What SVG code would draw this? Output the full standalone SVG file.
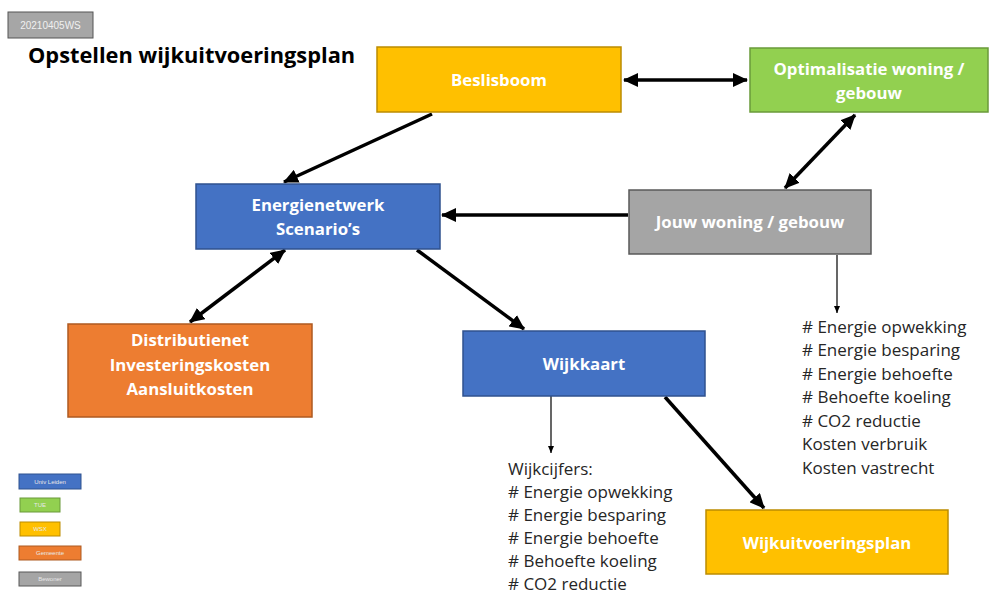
<svg xmlns="http://www.w3.org/2000/svg" width="990" height="594" viewBox="0 0 990 594">
<style>
.box{stroke-width:1.5}
.blue{fill:#4472C4;stroke:#2F528F}
.yellow{fill:#FFC000;stroke:#BC8C00}
.green{fill:#92D050;stroke:#6A9A3A}
.gray{fill:#A5A5A5;stroke:#595959}
.orange{fill:#ED7D31;stroke:#AE5A21}
.lbl{font-family:"Open Sans","Liberation Sans",sans-serif;font-weight:bold;font-size:16.8px;fill:#FFFFFF;text-anchor:middle}
.lst{font-family:"Open Sans","Liberation Sans",sans-serif;font-size:17px;fill:#262626}
.leg{font-family:"Liberation Sans",sans-serif;font-size:6px;fill:#E8E8E8;text-anchor:middle}
.thick{stroke:#000;stroke-width:3.5;fill:none}
.thin{stroke:#000;stroke-width:1.2;fill:none}
</style>
<defs>
<marker id="ah" markerUnits="userSpaceOnUse" markerWidth="16" markerHeight="14" refX="14" refY="7" orient="auto-start-reverse"><path d="M0,0 L15,7 L0,14 Z" fill="#000"/></marker>
<marker id="as" markerUnits="userSpaceOnUse" markerWidth="8" markerHeight="8" refX="7" refY="4" orient="auto"><path d="M0,1 L7,4 L0,7 Z" fill="#000"/></marker>
</defs>
<rect width="990" height="594" fill="#FFFFFF"/>

<g id="datelabel">
<rect x="8" y="12" width="85" height="26" fill="#A6A6A6" stroke="#555" stroke-width="1"/>
<text x="50.5" y="29" font-family="Liberation Sans,sans-serif" font-size="10" fill="#F0F0F0" text-anchor="middle">20210405WS</text>
</g>
<g id="title"><text x="28" y="63" font-family="Open Sans,Liberation Sans,sans-serif" font-weight="bold" font-size="21.8" fill="#000">Opstellen wijkuitvoeringsplan</text></g>

<g id="connectors">
<line class="thick" x1="624" y1="80" x2="747" y2="80" marker-start="url(#ah)" marker-end="url(#ah)"/>
<line class="thick" x1="432" y1="114" x2="284" y2="182" marker-end="url(#ah)"/>
<line class="thick" x1="855" y1="115" x2="785" y2="188" marker-start="url(#ah)" marker-end="url(#ah)"/>
<line class="thick" x1="628" y1="215" x2="442" y2="215" marker-end="url(#ah)"/>
<line class="thick" x1="285" y1="250" x2="190" y2="322" marker-start="url(#ah)" marker-end="url(#ah)"/>
<line class="thick" x1="417" y1="250" x2="524" y2="329" marker-end="url(#ah)"/>
<line class="thick" x1="665" y1="397" x2="764" y2="508" marker-end="url(#ah)"/>
<line class="thin" x1="551" y1="396" x2="551" y2="453" marker-end="url(#as)"/>
<line class="thin" x1="837" y1="255" x2="837" y2="313" marker-end="url(#as)"/>
</g>

<g id="beslisboom">
<rect class="box yellow" x="377" y="47" width="244" height="65"/>
<text class="lbl" x="499" y="86">Beslisboom</text>
</g>
<g id="optimalisatie">
<rect class="box green" x="750" y="48" width="238" height="64"/>
<text class="lbl" x="869" y="75">Optimalisatie woning /</text>
<text class="lbl" x="869" y="99">gebouw</text>
</g>
<g id="energienetwerk">
<rect class="box blue" x="196" y="184" width="244" height="65"/>
<text class="lbl" x="318" y="211">Energienetwerk</text>
<text class="lbl" x="318" y="235">Scenario’s</text>
</g>
<g id="jouwwoning">
<rect class="box gray" x="629" y="190" width="242" height="64"/>
<text class="lbl" x="750" y="228">Jouw woning / gebouw</text>
</g>
<g id="distributienet">
<rect class="box orange" x="68" y="324" width="244" height="93"/>
<text class="lbl" x="190" y="346">Distributienet</text>
<text class="lbl" x="190" y="371">Investeringskosten</text>
<text class="lbl" x="190" y="395">Aansluitkosten</text>
</g>
<g id="wijkkaart">
<rect class="box blue" x="463" y="331" width="242" height="65"/>
<text class="lbl" x="584" y="370">Wijkkaart</text>
</g>
<g id="wijkuitvoeringsplan">
<rect class="box yellow" x="706" y="510" width="242" height="64"/>
<text class="lbl" x="827" y="549">Wijkuitvoeringsplan</text>
</g>

<g id="wijkcijfers">
<text class="lst" x="508" y="475">Wijkcijfers:</text>
<text class="lst" x="508" y="498"># Energie opwekking</text>
<text class="lst" x="508" y="521"># Energie besparing</text>
<text class="lst" x="508" y="544"># Energie behoefte</text>
<text class="lst" x="508" y="567"># Behoefte koeling</text>
<text class="lst" x="508" y="590"># CO2 reductie</text>
</g>
<g id="woningcijfers">
<text class="lst" x="802" y="333"># Energie opwekking</text>
<text class="lst" x="802" y="356"># Energie besparing</text>
<text class="lst" x="802" y="380"># Energie behoefte</text>
<text class="lst" x="802" y="403"># Behoefte koeling</text>
<text class="lst" x="802" y="427"># CO2 reductie</text>
<text class="lst" x="802" y="450">Kosten verbruik</text>
<text class="lst" x="802" y="474">Kosten vastrecht</text>
</g>

<g id="legend">
<rect class="blue" stroke-width="1" x="19" y="474" width="62" height="15"/>
<text class="leg" x="50" y="483.5">Univ Leiden</text>
<rect class="green" stroke-width="1" x="20" y="498" width="40" height="14"/>
<text class="leg" x="40" y="507">TUE</text>
<rect class="yellow" stroke-width="1" x="20" y="522" width="40" height="14"/>
<text class="leg" x="40" y="531">WSX</text>
<rect class="orange" stroke-width="1" x="19" y="546" width="62" height="14"/>
<text class="leg" x="50" y="555">Gemeente</text>
<rect class="gray" stroke-width="1" x="19" y="572" width="62" height="14"/>
<text class="leg" x="50" y="581">Bewoner</text>
</g>
</svg>
